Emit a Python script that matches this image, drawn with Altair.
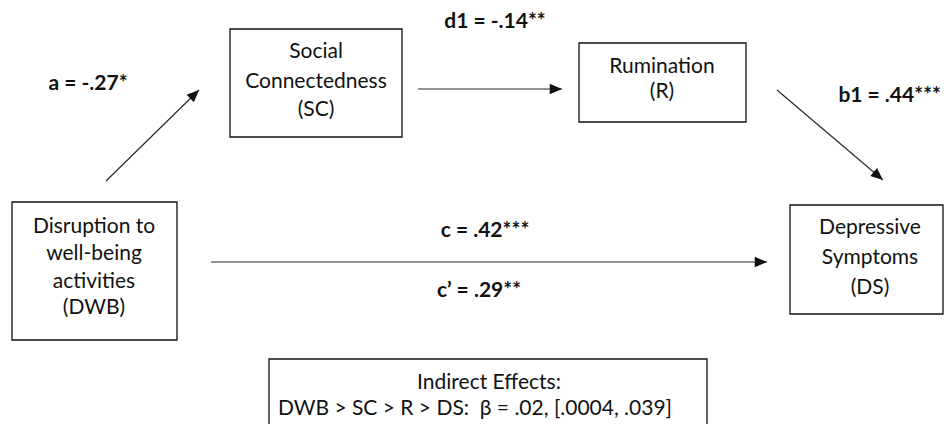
import math
import altair as alt
import pandas as pd

# ---- diagram content -------------------------------------------------------
node_ids = ["SC", "R", "DWB", "DS", "IND"]
node_lines = [
    ["Social", "Connectedness", "(SC)"],
    ["Rumination", "(R)"],
    ["Disruption to", "well-being", "activities", "(DWB)"],
    ["Depressive", "Symptoms", "(DS)"],
    ["Indirect Effects:", "DWB > SC > R > DS:\u00a0 \u03b2 = .02, [.0004, .039]"],
]
# box outlines (page pixel coordinates)
box_x1 = [230, 579, 12, 790, 269]
box_x2 = [402, 746, 177, 943, 707]
box_y1 = [29, 43, 202, 205, 359]
box_y2 = [137, 122, 340, 314, 460]
# text line anchors inside each box
line_x = [[316, 316, 316], [662, 662], [94, 94, 94, 94], [870, 870, 870], [489, 475]]
line_y = [[52, 82, 110], [67, 92], [227, 254, 282, 308], [228, 258, 288], [383, 409]]

# paths: label, coefficient label, start, tip
path_names = ["a", "d1", "b1", "c"]
path_labels = ["a = -.27*", "d1 = -.14**", "b1 = .44***", "c = .42***"]
path_x1 = [106, 418, 777, 211]
path_y1 = [181, 89, 90, 262]
path_x2 = [199, 562, 883, 767]
path_y2 = [90, 89, 180, 262]
label_x = [88, 495, 941, 485]
label_y = [84, 22, 96, 231]
label_align = ["center", "center", "right", "center"]

extra_labels = ["c\u2019 = .29**"]
extra_x = [479]
extra_y = [291]

FONT = "Lato"
FS = 21
FSB = 21
INK = "#111111"

# ---- tables ----------------------------------------------------------------
boxes = pd.DataFrame({"id": node_ids, "x1": box_x1, "x2": box_x2, "y1": box_y1, "y2": box_y2})

rows = []
for nid, lines, xs_, ys_ in zip(node_ids, node_lines, line_x, line_y):
    for t, xx, yy in zip(lines, xs_, ys_):
        rows.append({"id": nid, "text": t, "x": xx, "y": yy})
node_text = pd.DataFrame(rows)

edges = pd.DataFrame({"name": path_names, "x1": path_x1, "y1": path_y1,
                      "x2": path_x2, "y2": path_y2})
edges["angle"] = [(math.degrees(math.atan2(b2 - b1, a2 - a1)) + 360) % 360
                  for a1, b1, a2, b2 in zip(path_x1, path_y1, path_x2, path_y2)]

lab_c = pd.DataFrame({"text": [l for l, a in zip(path_labels, label_align) if a == "center"] + extra_labels,
                      "x": [v for v, a in zip(label_x, label_align) if a == "center"] + extra_x,
                      "y": [v for v, a in zip(label_y, label_align) if a == "center"] + extra_y})
lab_r = pd.DataFrame({"text": [l for l, a in zip(path_labels, label_align) if a == "right"],
                      "x": [v for v, a in zip(label_x, label_align) if a == "right"],
                      "y": [v for v, a in zip(label_y, label_align) if a == "right"]})

W, H = 936, 416
xs = alt.Scale(domain=[8, 8 + W], range=[0, W], nice=False, zero=False)
ys = alt.Scale(domain=[8, 8 + H], range=[0, H], nice=False, zero=False)

def X(f):
    return alt.X(f, type="quantitative", scale=xs, axis=None)

def Y(f):
    return alt.Y(f, type="quantitative", scale=ys, axis=None)

box_layer = alt.Chart(boxes).mark_rect(fill="white", stroke=INK, strokeWidth=1.3).encode(
    x=X("x1"), x2="x2", y=Y("y1"), y2="y2")

edge_layer = alt.Chart(edges).mark_rule(color="#2a2a2a", strokeWidth=1.2).encode(
    x=X("x1"), x2="x2", y=Y("y1"), y2="y2")

head_layer = alt.Chart(edges).mark_point(
    shape="M0,0L-2,-0.85L-2,0.85Z", filled=True, size=150, color="#111111", opacity=1
).encode(x=X("x2"), y=Y("y2"), angle=alt.Angle("angle:Q", scale=None))

node_layer = alt.Chart(node_text).mark_text(
    font=FONT, fontSize=FS, color=INK, align="center", baseline="middle"
).encode(x=X("x"), y=Y("y"), text="text:N")

lab_c_layer = alt.Chart(lab_c).mark_text(
    font=FONT, fontSize=FSB, fontWeight="bold", color=INK, align="center", baseline="middle"
).encode(x=X("x"), y=Y("y"), text="text:N")

lab_r_layer = alt.Chart(lab_r).mark_text(
    font=FONT, fontSize=FSB, fontWeight="bold", color=INK, align="right", baseline="middle"
).encode(x=X("x"), y=Y("y"), text="text:N")

chart = alt.layer(box_layer, edge_layer, head_layer, node_layer, lab_c_layer, lab_r_layer).properties(
    width=W, height=H, padding=0, autosize="none", background="white"
).configure_view(stroke=None)

chart.save("out.html", embed_options={"renderer": "svg", "actions": False})
